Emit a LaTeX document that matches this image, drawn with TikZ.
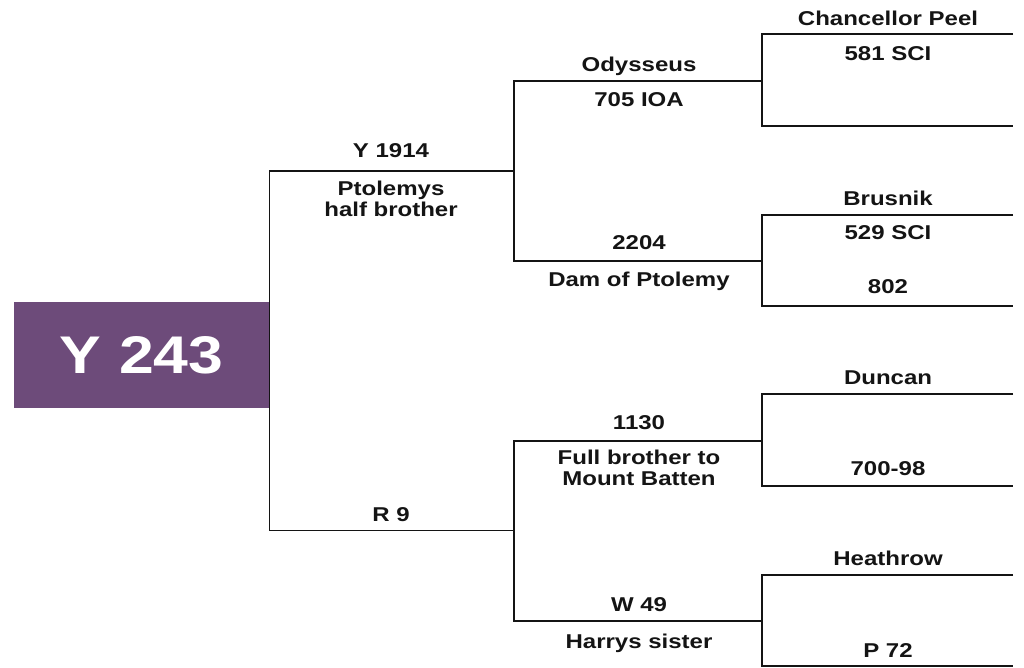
\documentclass[tikz,border=0pt]{standalone}
\usepackage{fontspec}
\setmainfont{Liberation Sans}
\usepackage{graphicx}
\definecolor{plum}{RGB}{109,75,122}
\definecolor{ink}{RGB}{20,20,20}
\newcommand\hstretch[1]{\scalebox{1.2}[1]{#1}}
\newcommand\twoline[2]{\hstretch{\begin{tabular}[t]{@{}c@{}}#1\\#2\end{tabular}}}
\begin{document}
\begin{tikzpicture}[x=1pt,y=-1pt,
  lbl/.style={anchor=base, inner sep=0pt, text=ink, font=\bfseries\fontsize{20}{21}\selectfont},
  conn/.style={draw=ink, line width=1.6pt}]
\useasboundingbox (0,0) rectangle (1024,668);

% root
\node[fill=plum, minimum width=255pt, minimum height=106pt, inner sep=0pt, anchor=north west,
      text=white, font=\bfseries\fontsize{53}{53}\selectfont] (root) at (14,302) {\scalebox{1.18}[1]{Y 243}};

% junction coordinates
\coordinate (a1) at (514,171);
\coordinate (a2) at (514,530.5);
\coordinate (b1) at (762,81);
\coordinate (b2) at (762,261);
\coordinate (b3) at (762,441);
\coordinate (b4) at (762,621);
\coordinate (c1t) at (1013,34);  \coordinate (c1b) at (1013,126);
\coordinate (c2t) at (1013,215); \coordinate (c2b) at (1013,306);
\coordinate (c3t) at (1013,394); \coordinate (c3b) at (1013,486);
\coordinate (c4t) at (1013,575); \coordinate (c4b) at (1013,666);

% connectors
\draw[conn] (a1) -| (root.east) |- (a2);
\draw[conn] (b1) -| (a1) |- (b2);
\draw[conn] (b3) -| (a2) |- (b4);
\draw[conn] (c1t) -| (b1) |- (c1b);
\draw[conn] (c2t) -| (b2) |- (c2b);
\draw[conn] (c3t) -| (b3) |- (c3b);
\draw[conn] (c4t) -| (b4) |- (c4b);

% generation 1 labels
\node[lbl] (s1) at (391,158) {\hstretch{Y 1914}};
\node[lbl] (s1n) at (391,196) {\twoline{Ptolemys}{half brother}};
\node[lbl] (d1) at (391,521) {\hstretch{R 9}};

% generation 2 labels
\node[lbl] (ss) at (639,72) {\hstretch{Odysseus}};
\node[lbl] (ssn) at (639,107) {\hstretch{705 IOA}};
\node[lbl] (sd) at (639,249) {\hstretch{2204}};
\node[lbl] (sdn) at (639,286) {\hstretch{Dam of Ptolemy}};
\node[lbl] (ds) at (639,429) {\hstretch{1130}};
\node[lbl] (dsn) at (639,464) {\twoline{Full brother to}{Mount Batten}};
\node[lbl] (dd) at (639,611) {\hstretch{W 49}};
\node[lbl] (ddn) at (639,648) {\hstretch{Harrys sister}};

% generation 3 labels
\node[lbl] (g1) at (888,26) {\hstretch{Chancellor Peel}};
\node[lbl] (g1n) at (888,61) {\hstretch{581 SCI}};
\node[lbl] (g2) at (888,206) {\hstretch{Brusnik}};
\node[lbl] (g2n) at (888,240) {\hstretch{529 SCI}};
\node[lbl] (g2m) at (888,293) {\hstretch{802}};
\node[lbl] (g3) at (888,384) {\hstretch{Duncan}};
\node[lbl] (g3n) at (888,475) {\hstretch{700-98}};
\node[lbl] (g4) at (888,565) {\hstretch{Heathrow}};
\node[lbl] (g4n) at (888,657) {\hstretch{P 72}};
\end{tikzpicture}
\end{document}
